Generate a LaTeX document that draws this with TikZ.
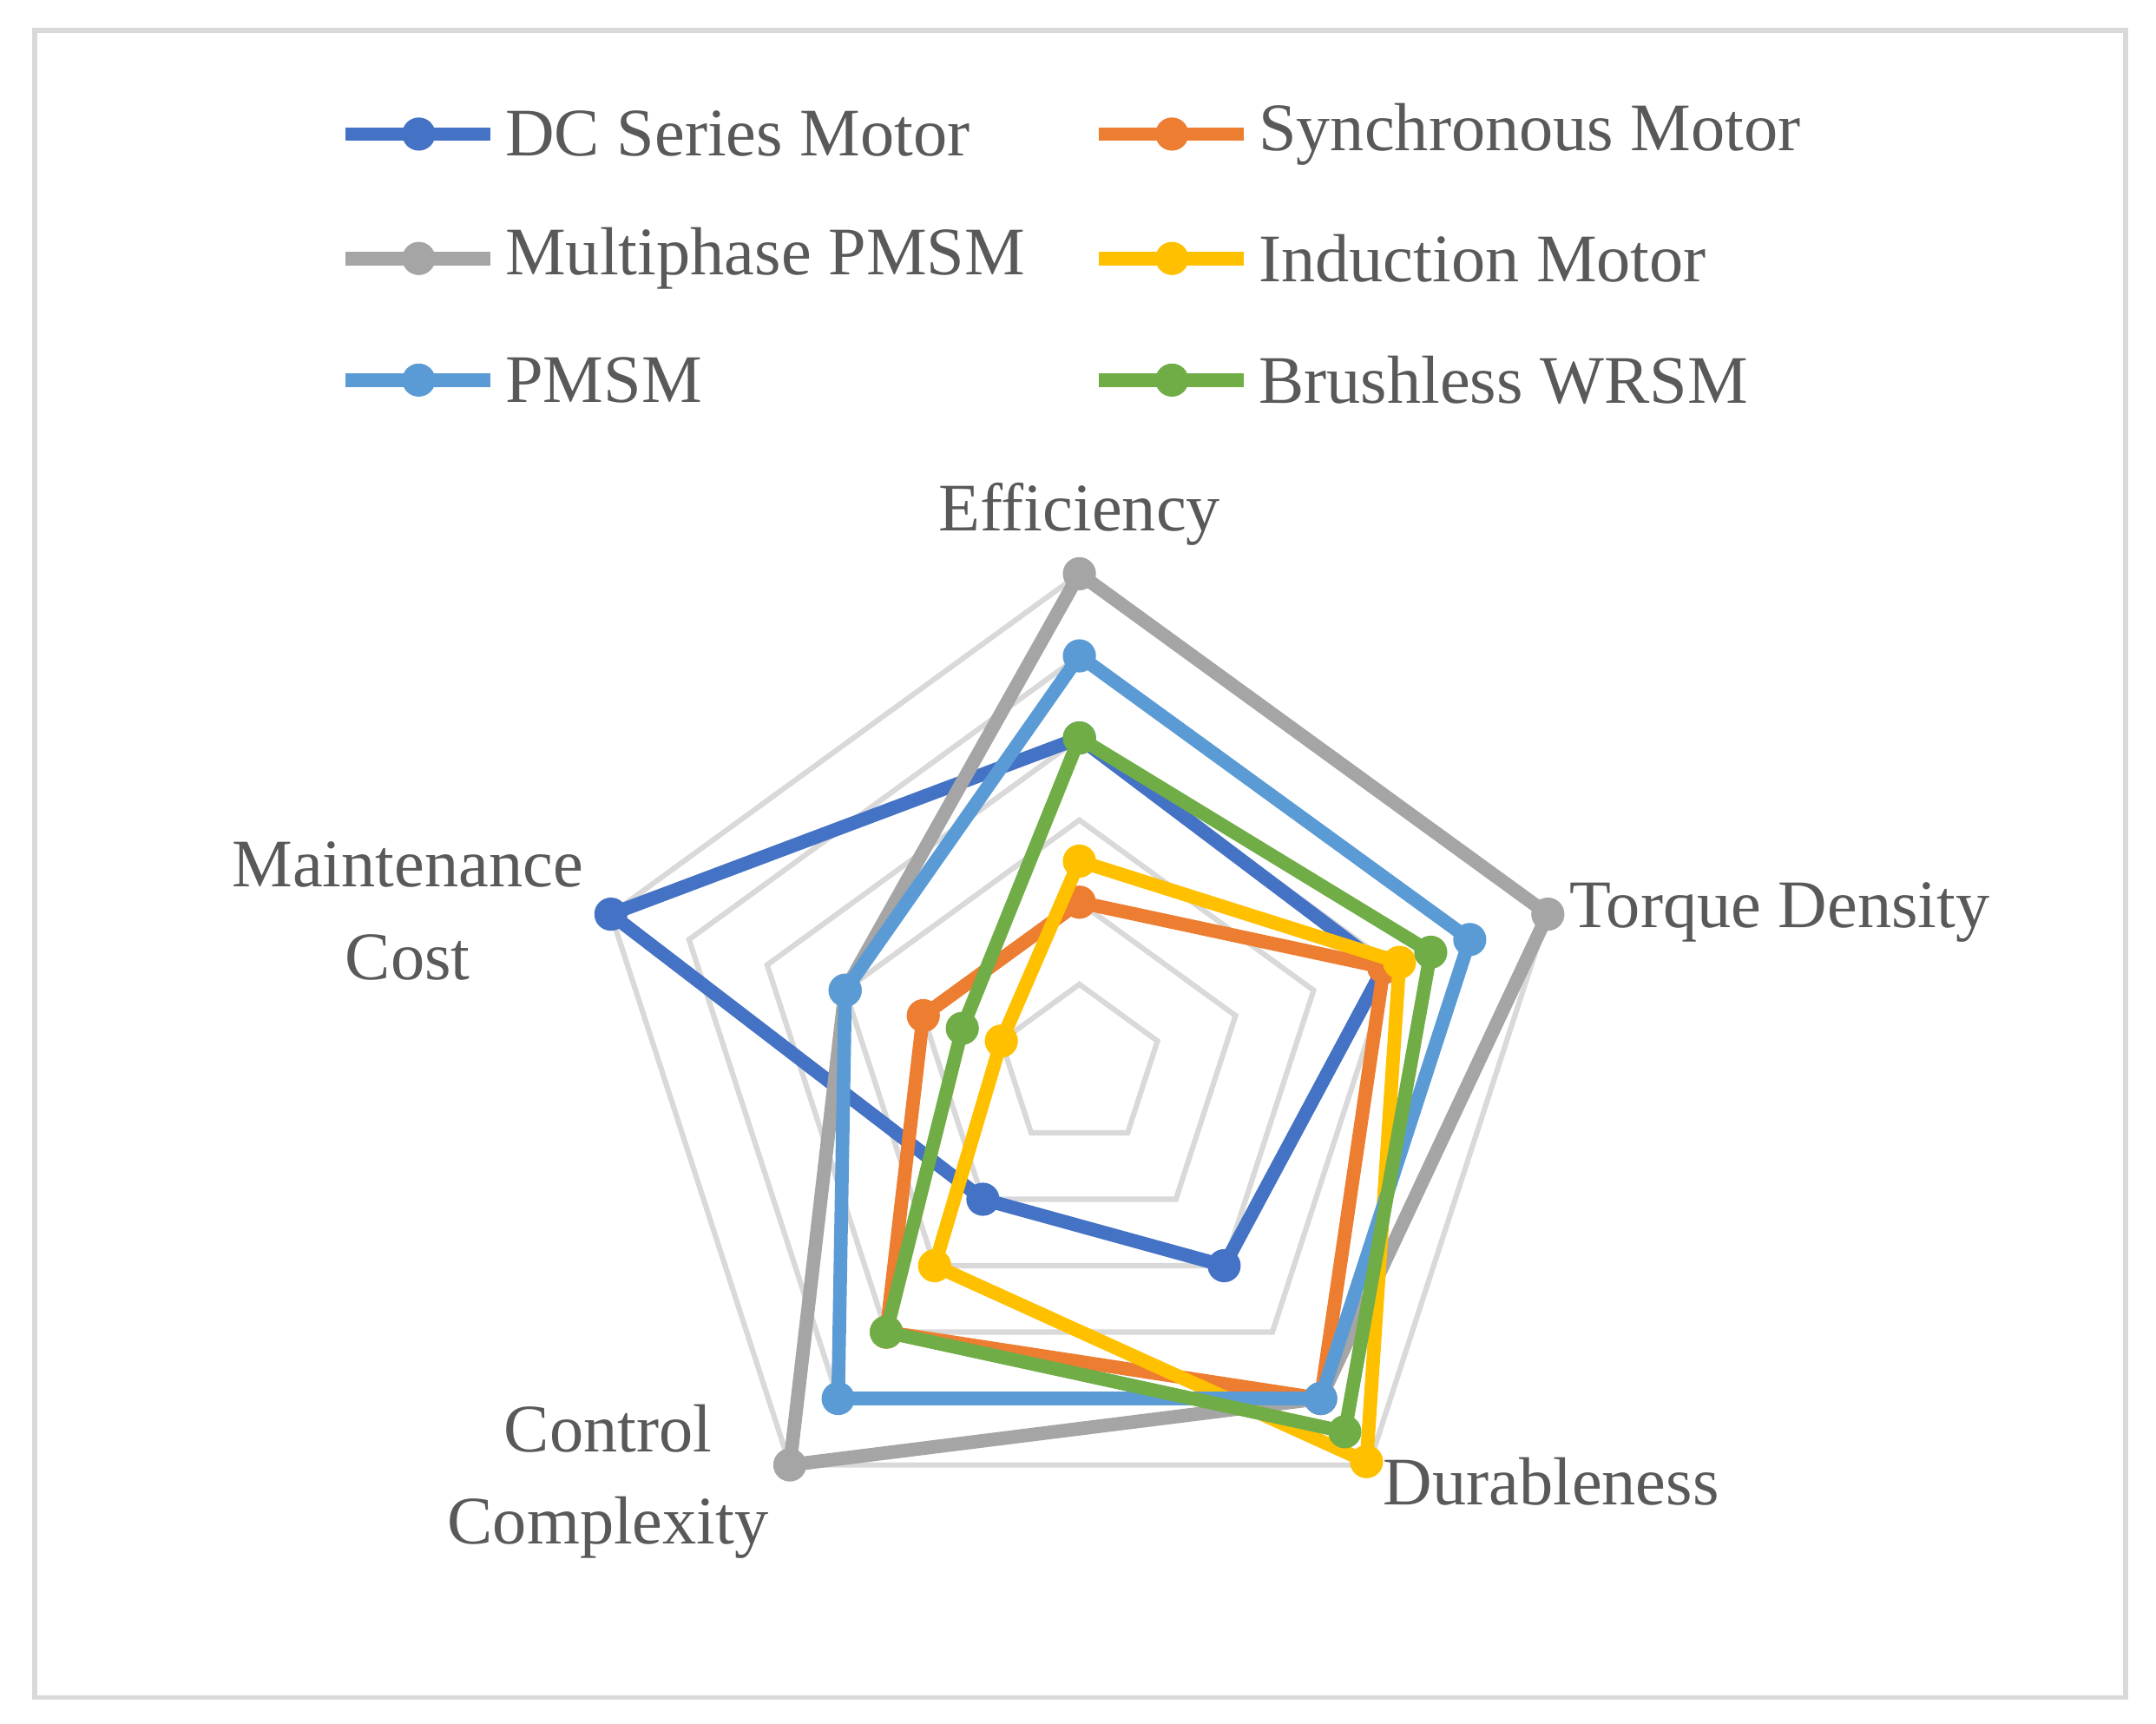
\documentclass[tikz,border=0pt]{standalone}
\usepackage{fontspec}
\setmainfont{Liberation Serif}
\begin{document}
\definecolor{cA}{HTML}{4472C4}\definecolor{cB}{HTML}{ED7D31}\definecolor{cC}{HTML}{A5A5A5}
\definecolor{cD}{HTML}{FFC000}\definecolor{cE}{HTML}{5B9BD5}\definecolor{cF}{HTML}{70AD47}
\definecolor{txt}{HTML}{595959}\definecolor{grid}{HTML}{D9D9D9}
\begin{tikzpicture}[x=0.1mm,y=-0.1mm,
  lbl/.style={text=txt,font=\fontsize{14}{17}\selectfont,inner sep=0pt},
  ser/.style={line width=2.8pt,line join=round},
  dot/.style={fill=#1,draw=none}]
\useasboundingbox (0,0) rectangle (1560,1247);
\draw[grid,line width=1pt] (25,22) rectangle (1538,1228);
\def\cx{781}\def\cy{771.5}\def\u{59.4}
% grid
\foreach \k in {1,...,6}{
  \draw[grid,line width=1.1pt] ({\cx+\k*\u*cos(90)},{\cy-\k*\u*sin(90)})
   -- ({\cx+\k*\u*cos(18)},{\cy-\k*\u*sin(18)})
   -- ({\cx+\k*\u*cos(-54)},{\cy-\k*\u*sin(-54)})
   -- ({\cx+\k*\u*cos(-126)},{\cy-\k*\u*sin(-126)})
   -- ({\cx+\k*\u*cos(162)},{\cy-\k*\u*sin(162)}) -- cycle;}
% series
\foreach \c/\a/\b/\d/\e/\f in {cA/4/3.9/3/2/6, cB/2/3.9/5/4/2, cC/6/6/5/6/3, cD/2.5/4.1/5.95/3/1, cE/5/5/5/5/3, cF/4/4.5/5.5/4/1.5}{
  \coordinate (p1) at ({\cx+\a*\u*cos(90)},{\cy-\a*\u*sin(90)});
  \coordinate (p2) at ({\cx+\b*\u*cos(18)},{\cy-\b*\u*sin(18)});
  \coordinate (p3) at ({\cx+\d*\u*cos(-54)},{\cy-\d*\u*sin(-54)});
  \coordinate (p4) at ({\cx+\e*\u*cos(-126)},{\cy-\e*\u*sin(-126)});
  \coordinate (p5) at ({\cx+\f*\u*cos(162)},{\cy-\f*\u*sin(162)});
  \draw[ser,\c] (p1)--(p2)--(p3)--(p4)--(p5)--cycle;
  \foreach \p in {p1,p2,p3,p4,p5}{\fill[\c] (\p) circle (12);}
}
% axis labels
\node[lbl] (ef) at (781,372) {Efficiency};
\node[lbl,anchor=west] (td) at (1135,660) {Torque Density};
\node[lbl,anchor=west] (du) at (1000,1072) {Durableness};
\node[lbl,align=center] (cc) at (440,1072) {Control\\[2pt]Complexity};
\node[lbl,align=center] (mc) at (295,659) {Maintenance\\[2pt]Cost};
% legend
\foreach \c/\x/\y/\t in {cA/250/97/DC Series Motor, cB/795/97/Synchronous Motor, cC/250/187/Multiphase PMSM, cD/795/187/Induction Motor, cE/250/275/PMSM, cF/795/275/Brushless WRSM}{
  \draw[\c,line width=2.8pt] (\x,\y) -- ++(105,0);
  \fill[\c] (\x+53,\y) circle (12);
  \node[lbl,anchor=west] at (\x+115,\y) {\t};
}
\end{tikzpicture}
\end{document}
